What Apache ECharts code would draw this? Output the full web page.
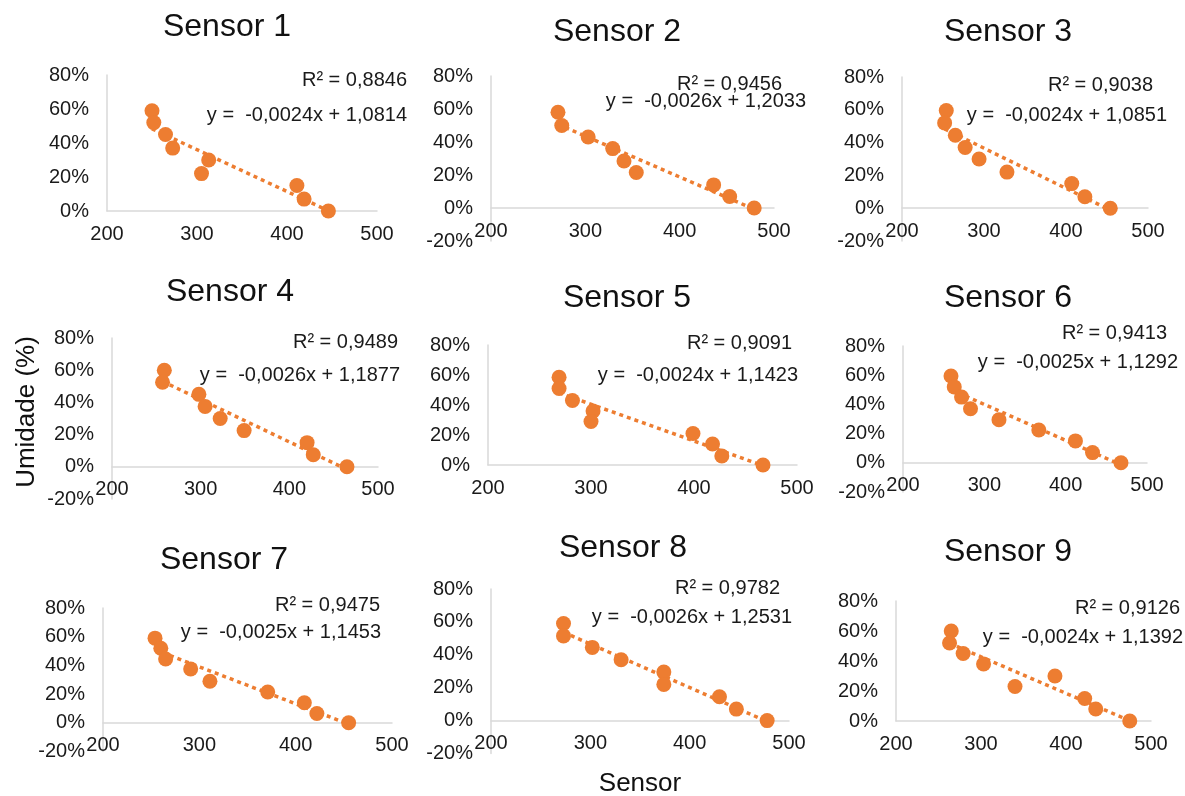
<!DOCTYPE html>
<html>
<head>
<meta charset="utf-8">
<title>Sensores - Umidade</title>
<script src="https://cdn.jsdelivr.net/npm/echarts@6/dist/echarts.min.js"></script>
<style>
  html, body { margin: 0; padding: 0; background: #fff; }
  #chart { width: 1185px; height: 796px; }
</style>
</head>
<body>
<div id="chart"></div>
<script>
// leituras do sensor (eixo x) e umidade (eixo y), uma dupla por sensor
const s1x = [250, 252, 265, 273, 313, 305, 411, 419, 446];
const s1y = [0.59, 0.52, 0.45, 0.37, 0.30, 0.22, 0.15, 0.07, 0];
const s2x = [271, 275, 303, 329, 341, 354, 436, 453, 479];
const s2y = [0.58, 0.50, 0.43, 0.36, 0.285, 0.215, 0.14, 0.07, 0];
const s3x = [254, 252, 265, 277, 294, 328, 407, 423, 454];
const s3y = [0.595, 0.52, 0.445, 0.37, 0.30, 0.22, 0.15, 0.07, 0];
const s4x = [259, 257, 298, 305, 322, 349, 420, 427, 465];
const s4y = [0.60, 0.525, 0.45, 0.375, 0.30, 0.225, 0.15, 0.075, 0];
const s5x = [269, 269, 282, 302, 300, 399, 418, 427, 467];
const s5y = [0.585, 0.51, 0.43, 0.36, 0.29, 0.21, 0.14, 0.06, 0];
const s6x = [259, 263, 272, 283, 318, 367, 412, 433, 468];
const s6y = [0.595, 0.52, 0.45, 0.37, 0.295, 0.225, 0.15, 0.07, 0];
const s7x = [254, 260, 265, 291, 311, 371, 409, 422, 455];
const s7y = [0.59, 0.52, 0.445, 0.375, 0.29, 0.215, 0.14, 0.065, 0];
const s8x = [273, 273, 302, 331, 374, 374, 430, 447, 478];
const s8y = [0.59, 0.515, 0.445, 0.37, 0.295, 0.22, 0.145, 0.07, 0];
const s9x = [265, 263, 279, 303, 340, 387, 422, 435, 475];
const s9y = [0.60, 0.52, 0.45, 0.38, 0.23, 0.30, 0.15, 0.08, 0];

const titles = ["Sensor 1", "Sensor 2", "Sensor 3", "Sensor 4", "Sensor 5",
  "Sensor 6", "Sensor 7", "Sensor 8", "Sensor 9"];
const r2Labels = ["R² = 0,8846", "R² = 0,9456", "R² = 0,9038", "R² = 0,9489", "R² = 0,9091",
  "R² = 0,9413", "R² = 0,9475", "R² = 0,9782", "R² = 0,9126"];
const eqLabels = ["y =  -0,0024x + 1,0814", "y =  -0,0026x + 1,2033", "y =  -0,0024x + 1,0851",
  "y =  -0,0026x + 1,1877", "y =  -0,0024x + 1,1423", "y =  -0,0025x + 1,1292",
  "y =  -0,0025x + 1,1453", "y =  -0,0026x + 1,2531", "y =  -0,0024x + 1,1392"];
const yMins = [0, -0.2, -0.2, -0.2, 0, -0.2, -0.2, -0.2, 0];

const xs = [s1x, s2x, s3x, s4x, s5x, s6x, s7x, s8x, s9x];
const ys = [s1y, s2y, s3y, s4y, s5y, s6y, s7y, s8y, s9y];

// posição de cada painel: left, top, largura, px por 20%
const boxes = [
  [107, 75, 270, 34], [491, 76, 283, 33], [902, 77, 246, 32.8],
  [112, 338, 266, 32.2], [488, 345, 309, 30], [903, 346, 244, 29.2],
  [103, 608, 289, 28.7], [491, 589, 298, 32.9], [896, 601, 255, 30]
];
// titulo (centro x, y), R² (direita x, y), equacao (direita x, y)
const textPos = [
  [227, 27, 407, 80, 407, 115], [617, 32, 782, 84, 806, 101], [1008, 32, 1153, 85, 1167, 115],
  [230, 292, 398, 342, 400, 375], [627, 298, 792, 343, 798, 375], [1008, 298, 1167, 333, 1178, 362],
  [224, 560, 380, 605, 381, 632], [623, 548, 780, 588, 792, 617], [1008, 552, 1180, 608, 1183, 637]
];

const FONT = '"Liberation Sans", Arial, sans-serif';
const ORANGE = "#ED7D31";
const AXIS_GRAY = "#d9d9d9";

// linha de tendencia (minimos quadrados) entre o menor e o maior x
function trend(x, y) {
  const n = x.length;
  let sx = 0, sy = 0, sxx = 0, sxy = 0;
  for (let i = 0; i < n; i++) {
    sx += x[i]; sy += y[i]; sxx += x[i] * x[i]; sxy += x[i] * y[i];
  }
  const b = (n * sxy - sx * sy) / (n * sxx - sx * sx);
  const a = (sy - b * sx) / n;
  const x0 = Math.min(...x), x1 = Math.max(...x);
  return [[x0, a + b * x0], [x1, a + b * x1]];
}

function yAxisFor(gridIndex, min, show) {
  return {
    type: "value", gridIndex: gridIndex, min: min, max: 0.8, interval: 0.2, show: show,
    axisLine: { show: true, onZero: false, lineStyle: { color: AXIS_GRAY, width: 1.5 } },
    axisTick: { show: false }, splitLine: { show: false },
    axisLabel: {
      color: "#1a1a1a", fontSize: 20, fontFamily: FONT, margin: 18,
      formatter: v => Math.round(v * 100) + "%"
    }
  };
}

let grid = [], xAxis = [], yAxis = [], series = [], graphic = [];

for (let i = 0; i < 9; i++) {
  const [left, top, width, step] = boxes[i];
  const neg = yMins[i] < 0;

  // grade dos dados: 0% a 80%, eixo x na linha do 0%
  grid.push({ left: left, top: top, width: width, height: step * 4 });
  xAxis.push({
    type: "value", gridIndex: i, min: 200, max: 500, interval: 100,
    axisLine: { onZero: false, lineStyle: { color: AXIS_GRAY, width: 1.5 } },
    axisTick: { show: false }, splitLine: { show: false },
    axisLabel: { color: "#1a1a1a", fontSize: 20, fontFamily: FONT, margin: 13 }
  });
  yAxis.push(yAxisFor(i, 0, !neg));

  series.push({
    type: "line", xAxisIndex: i, yAxisIndex: i, data: trend(xs[i], ys[i]),
    symbol: "none", z: 1, silent: true, clip: false,
    lineStyle: { color: ORANGE, width: 3.5, type: [4, 4] }
  });
  series.push({
    type: "scatter", xAxisIndex: i, yAxisIndex: i, z: 2, clip: false,
    data: xs[i].map((v, k) => [v, ys[i][k]]),
    symbolSize: 15, itemStyle: { color: ORANGE, opacity: 1 }
  });

  const p = textPos[i];
  graphic.push({
    type: "text", style: { text: titles[i], x: p[0], y: p[1], fill: "#111",
      font: "32px " + FONT, align: "center", verticalAlign: "middle" }
  });
  graphic.push({
    type: "text", style: { text: r2Labels[i], x: p[2], y: p[3], fill: "#1a1a1a",
      font: "20px " + FONT, align: "right", verticalAlign: "middle" }
  });
  graphic.push({
    type: "text", style: { text: eqLabels[i], x: p[4], y: p[5], fill: "#1a1a1a",
      font: "20px " + FONT, align: "right", verticalAlign: "middle" }
  });
}

// paineis com -20%: uma grade extra só para o eixo y mais longo
for (let i = 0; i < 9; i++) {
  if (yMins[i] >= 0) continue;
  const [left, top, width, step] = boxes[i];
  const g = grid.length;
  grid.push({ left: left, top: top, width: width, height: step * (0.8 - yMins[i]) / 0.2 });
  xAxis.push({ type: "value", gridIndex: g, min: 200, max: 500, show: false });
  yAxis.push(yAxisFor(g, yMins[i], true));
}

// titulos dos eixos
graphic.push({
  type: "text", x: 27, y: 412, rotation: Math.PI / 2,
  style: { text: "Umidade (%)", fill: "#111", font: "26px " + FONT,
    align: "center", verticalAlign: "middle" }
});
graphic.push({
  type: "text", style: { text: "Sensor", x: 640, y: 784, fill: "#111",
    font: "26px " + FONT, align: "center", verticalAlign: "middle" }
});

const chart = echarts.init(document.getElementById("chart"));
chart.setOption({
  backgroundColor: "#fff",
  animation: false,
  grid: grid,
  xAxis: xAxis,
  yAxis: yAxis,
  series: series,
  graphic: graphic
});
</script>
</body>
</html>
